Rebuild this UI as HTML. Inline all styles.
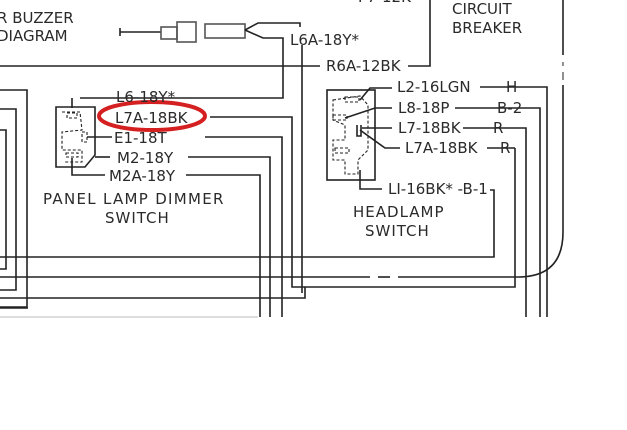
<!DOCTYPE html>
<html><head><meta charset="utf-8"><style>
html,body{margin:0;padding:0;background:#fff;}
svg{display:block;}
text{font-family:"DejaVu Sans","Liberation Sans",sans-serif;fill:#2a2a2a;font-size:15px;}
</style></head><body>
<svg width="627" height="430" viewBox="0 0 627 430" xmlns="http://www.w3.org/2000/svg">
<g stroke="#222" stroke-width="1.6" fill="none">
<!-- top buzzer connector -->
<path d="M120 32 L161 32"/><path d="M120 28 L120 36"/>
<rect x="161" y="27" width="16" height="12" stroke="#555"/>
<rect x="177" y="22" width="19" height="20" stroke="#555"/>
<rect x="205" y="24" width="40" height="14" stroke="#555"/>
<path d="M245 30 L258 23 L300 23 L300 27"/>
<path d="M245 30 L263 38 L283 38 L283 98 L80 98"/>
<path d="M302 45 L302 293"/>
<!-- R6A line -->
<path d="M0 66 L320 66"/><path d="M408 66 L430 66 L430 0"/>
<!-- circuit breaker line -->
<path d="M563 0 L563 55" /><path d="M563 62 L563 66" stroke-width="1"/><path d="M563 72 L563 80" stroke-width="1"/>
<path d="M563 85 L563 232 Q563 277 518 277"/>
<!-- left nested boxes -->
<path d="M0 90 L27 90 L27 307 L0 307"/>
<path d="M0 109 L16 109 L16 290 L0 290"/>
<path d="M0 130 L6 130 L6 269 L0 269"/>
<!-- panel lamp dimmer switch -->
<path d="M56 107 L95 107 L95 155 L85 167 L56 167 Z"/>
<g stroke-dasharray="3 2" stroke-width="1.1">
<path d="M62 112 L80 112 L82 130 L62 132 L62 150 L82 150 L82 162 L64 162"/>
<rect x="67" y="113" width="10" height="5"/><rect x="82" y="132" width="5" height="10"/><rect x="66" y="153" width="12" height="4"/>
</g>
<path d="M72 108 L72 98"/>
<path d="M72 158 L72 175 L105 175"/>
<path d="M87 137 L112 137"/><path d="M95 157 L110 157"/>
<path d="M210 117 L292 117 L292 287 L515 287 L515 148"/>
<path d="M205 137 L282 137 L282 317"/>
<path d="M188 157 L270 157 L270 317"/>
<path d="M186 175 L260 175 L260 317"/>
<!-- headlamp switch -->
<rect x="327" y="90" width="48" height="90"/>
<g stroke-dasharray="3 2" stroke-width="1.1">
<path d="M333 100 L360 96 L368 105 L368 150 L358 160 L358 174 L345 174 L345 160 L333 160 L333 140 L345 140 L345 125 L333 120 Z"/>
<rect x="345" y="97" width="14" height="5"/><rect x="333" y="115" width="14" height="5"/><rect x="335" y="148" width="14" height="5"/>
</g>
<path d="M357 125 L357 136 L361 136 L361 125"/>
<path d="M360 100 L370 88 L392 88"/>
<path d="M345 118 L375 108 L392 108"/>
<path d="M362 128 L392 128"/>
<path d="M360 130 L385 148 L400 148"/>
<path d="M360 170 L360 189 L382 189"/>
<path d="M480 87 L547 87 L547 317"/>
<path d="M455 108 L540 108 L540 317"/>
<path d="M463 128 L526 128 L526 317"/>
<path d="M487 148 L515 148"/>
<path d="M490 190 L494 190 L494 257 L0 257"/>
<!-- bottom lines -->
<path d="M0 277 L370 277"/><path d="M378 277 L390 277"/><path d="M398 277 L518 277"/>
<path d="M0 298 L305 298 L305 287"/>
<path d="M0 308 L28 308"/>
<path d="M0 317 L258 317" stroke="#bbb" stroke-width="1"/>
</g>
<ellipse cx="152" cy="116" rx="53" ry="14" fill="none" stroke="#d42020" stroke-width="4"/>
<text x="358" y="2" font-size="14">P7-12K</text>
<text x="-3" y="23" font-size="17">R BUZZER</text>
<text x="-3" y="41" font-size="17">DIAGRAM</text>
<text x="290" y="45">L6A-18Y*</text>
<text x="326" y="71">R6A-12BK</text>
<text x="452" y="14">CIRCUIT</text>
<text x="452" y="33">BREAKER</text>
<text x="116" y="102">L6-18Y*</text>
<text x="115" y="123">L7A-18BK</text>
<text x="114" y="143">E1-18T</text>
<text x="117" y="163">M2-18Y</text>
<text x="109" y="181">M2A-18Y</text>
<text x="43" y="204" letter-spacing="1.3">PANEL LAMP DIMMER</text>
<text x="105" y="223" letter-spacing="1">SWITCH</text>
<text x="397" y="92">L2-16LGN</text><text x="506" y="92">H</text>
<text x="398" y="113">L8-18P</text><text x="497" y="113">B-2</text>
<text x="398" y="133">L7-18BK</text><text x="493" y="133">R</text>
<text x="405" y="153">L7A-18BK</text><text x="500" y="153">R</text>
<text x="388" y="194">LI-16BK* -B-1</text>
<text x="353" y="217" letter-spacing="1">HEADLAMP</text>
<text x="365" y="236" letter-spacing="1">SWITCH</text>
</svg>
</body></html>
